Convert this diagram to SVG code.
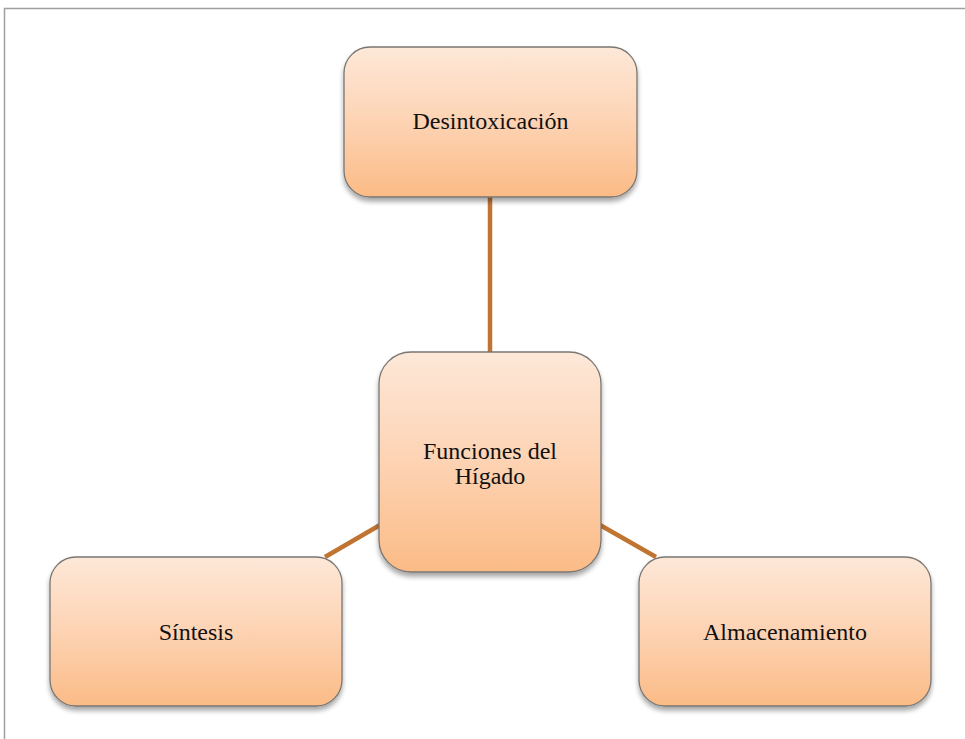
<svg xmlns="http://www.w3.org/2000/svg" width="965" height="739" viewBox="0 0 965 739">
<defs>
<linearGradient id="g" x1="0" y1="0" x2="0" y2="1">
<stop offset="0" stop-color="#FDE8D8"/>
<stop offset="0.5" stop-color="#FDD3B3"/>
<stop offset="1" stop-color="#FBBB86"/>
</linearGradient>
<filter id="sh" x="-10%" y="-10%" width="120%" height="130%">
<feGaussianBlur in="SourceAlpha" stdDeviation="2.5"/>
<feOffset dx="0" dy="4" result="b"/>
<feComponentTransfer><feFuncA type="linear" slope="0.35"/></feComponentTransfer>
<feMerge><feMergeNode/><feMergeNode in="SourceGraphic"/></feMerge>
</filter>
</defs>
<style>
.box{fill:url(#g);stroke:#7a7672;stroke-width:1.3;filter:url(#sh)}
.lbl{font-family:"Liberation Serif","Times New Roman",serif;font-size:24px;fill:#111;text-anchor:middle}
.con{stroke:#C07432;stroke-width:4.5;fill:none}
</style>
<rect width="965" height="739" fill="#fff"/>
<path d="M4.5 739 V8.5 H965" fill="none" stroke="#a0a0a0" stroke-width="1.5"/>
<g id="connectors">
<line class="con" x1="490" y1="197" x2="490" y2="353"/>
<line class="con" x1="380" y1="525" x2="325" y2="557"/>
<line class="con" x1="600" y1="525" x2="656" y2="557"/>
</g>
<g id="node-desintoxicacion">
<rect class="box" x="344" y="47" width="293" height="150" rx="26"/>
<text class="lbl" x="490.5" y="129">Desintoxicación</text>
</g>
<g id="node-funciones">
<rect class="box" x="379" y="352" width="222" height="220" rx="32"/>
<text class="lbl" x="490" y="459">Funciones del</text>
<text class="lbl" x="490" y="484">Hígado</text>
</g>
<g id="node-sintesis">
<rect class="box" x="50" y="557" width="292" height="149" rx="26"/>
<text class="lbl" x="196" y="640">Síntesis</text>
</g>
<g id="node-almacenamiento">
<rect class="box" x="639" y="557" width="292" height="149" rx="26"/>
<text class="lbl" x="785" y="640">Almacenamiento</text>
</g>
</svg>
